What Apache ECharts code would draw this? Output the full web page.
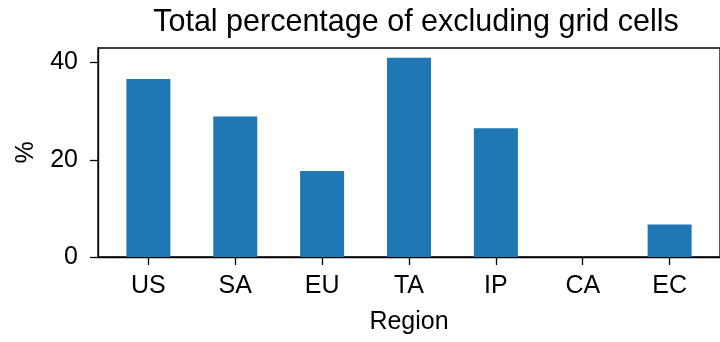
<!DOCTYPE html>
<html>
<head>
<meta charset="utf-8">
<script src="https://cdn.jsdelivr.net/npm/echarts@6/dist/echarts.min.js"></script>
<style>
  html, body { margin: 0; padding: 0; background: #fff; }
  #main { width: 720px; height: 342px; }
</style>
</head>
<body>
<div id="main"></div>
<script>
// regions along x, bar heights in %
var regions = ['US', 'SA', 'EU', 'TA', 'IP', 'CA', 'EC'];
var percents = [36.6, 28.9, 17.7, 41.0, 26.5, 0, 6.7];
var yTicks = [0, 20, 40];

var chart = echarts.init(document.getElementById('main'));
var font = 'Liberation Sans, Arial, Helvetica, sans-serif';

// bars sit on a value axis so the left margin matches the original
var barData = [];
for (var i = 0; i < regions.length; i++) {
    barData.push([i, percents[i]]);
}
var xPos = regions.map(function (r, i) { return i; });

chart.setOption({
    animation: false,
    title: {
        text: 'Total percentage of excluding grid cells',
        left: 411,
        textAlign: 'center',
        top: 2,
        textStyle: { fontFamily: font, fontSize: 30.5, fontWeight: 'normal', color: '#000' }
    },
    grid: {
        left: 98,
        right: -5,
        top: 48,
        bottom: 85,
        show: true,
        borderColor: '#000',
        borderWidth: 1.3,
        backgroundColor: 'transparent'
    },
    xAxis: {
        type: 'value',
        min: -0.58,
        max: 6.58,
        name: 'Region',
        nameLocation: 'middle',
        nameGap: 53,
        nameTextStyle: { fontFamily: font, fontSize: 25, color: '#000' },
        splitLine: { show: false },
        axisLine: { show: true, onZero: false, lineStyle: { color: '#000', width: 1.3 } },
        axisTick: { show: true, customValues: xPos, length: 8, lineStyle: { color: '#000', width: 1.3 } },
        axisLabel: {
            customValues: xPos,
            margin: 17,
            fontFamily: font,
            fontSize: 25,
            color: '#000',
            formatter: function (v) { return regions[Math.round(v)]; }
        }
    },
    yAxis: {
        type: 'value',
        min: 0,
        max: 43.0,
        name: '%',
        nameLocation: 'middle',
        nameRotate: 90,
        nameGap: 59,
        nameTextStyle: { fontFamily: font, fontSize: 25, color: '#000' },
        splitLine: { show: false },
        axisLine: { show: true, onZero: false, lineStyle: { color: '#000', width: 1.3 } },
        axisTick: { show: true, customValues: yTicks, length: 8, lineStyle: { color: '#000', width: 1.3 } },
        axisLabel: {
            customValues: yTicks,
            margin: 20,
            fontFamily: font,
            fontSize: 25,
            color: '#000'
        }
    },
    series: [{
        type: 'bar',
        barWidth: 44,
        data: barData,
        itemStyle: { color: '#1f77b4' }
    }]
});
</script>
</body>
</html>
